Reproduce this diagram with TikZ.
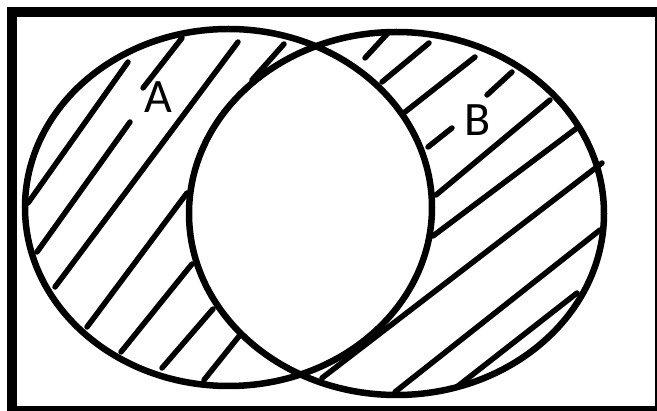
\documentclass[tikz,border=0pt]{standalone}
\usepackage{fontspec}
\setmainfont{Carlito}
\begin{document}
\begin{tikzpicture}[x=1pt,y=-1pt,
  hatch/.style={line width=5.5pt,line cap=round},
  setline/.style={line width=6.5pt},
  lbl/.style={font=\fontsize{48}{48}\selectfont, inner sep=0pt, text=black}]
\useasboundingbox (0,0) rectangle (657,411);
\clip (0,0) rectangle (657,411);
\fill[white] (0,0) rectangle (657,411);
% hatching of A only
\draw[hatch] (28,203) -- (128,62);
\draw[hatch] (143,88) -- (182,38);
\draw[hatch] (37,252) -- (130,122);
\draw[hatch] (55,287) -- (238,42);
\draw[hatch] (87,327) -- (187,193);
\draw[hatch] (121,352) -- (192,264);
\draw[hatch] (162,368) -- (213,309);
\draw[hatch] (204,380) -- (240,335);
\draw[hatch] (252,80) -- (284,44);
% hatching of B only
\draw[hatch] (365,58) -- (388,33);
\draw[hatch] (382,82) -- (429,43);
\draw[hatch] (405,112) -- (475,57);
\draw[hatch] (487,95) -- (512,72);
\draw[hatch] (428,147) -- (452,128);
\draw[hatch] (436,195) -- (550,100);
\draw[hatch] (433,236) -- (577,128);
\draw[hatch] (322,378) -- (602,163);
\draw[hatch] (395,392) -- (600,230);
\draw[hatch] (458,386) -- (577,293);
% sets
\draw[setline] (228.5,207.5) ellipse [x radius=203.5pt, y radius=178.5pt];
\draw[setline] (396.5,213.5) ellipse [x radius=207.5pt, y radius=181.5pt];
% labels
\node[lbl] (la) at (158,97) {A};
\node[lbl] (lb) at (478,120) {B};
% frame
\draw[line width=10pt] (12,12) rectangle (660,411);
\end{tikzpicture}
\end{document}
